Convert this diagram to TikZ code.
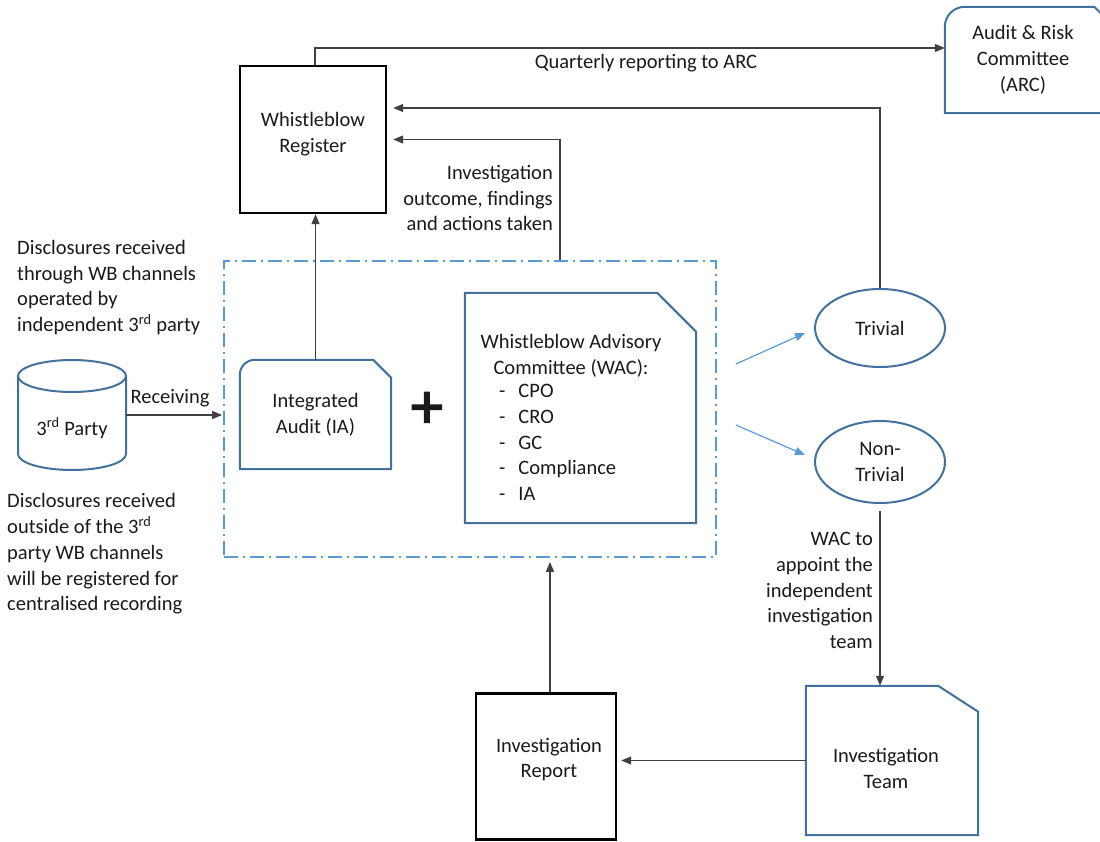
\documentclass[tikz,border=0pt]{standalone}
\usepackage{fontspec}
\setmainfont{Carlito}
\newfontfamily\plusfont[FakeBold=2.5]{Carlito}
\usetikzlibrary{arrows.meta,shapes.geometric,calc}
\definecolor{shapeblue}{HTML}{41719C}
\definecolor{lightblue}{HTML}{5B9BD5}
\definecolor{linegray}{HTML}{404040}
\definecolor{txt}{HTML}{1A1A1A}
\begin{document}
\begin{tikzpicture}[x=1pt,y=-1pt,
  font=\fontsize{20.5}{25.8}\selectfont,
  every node/.style={text=txt, inner sep=0pt},
  conn/.style={draw=linegray, line width=1.3pt, -{Triangle[length=10pt,width=8pt]}},
  blarrow/.style={draw=lightblue, line width=1.2pt, -{Triangle[length=10pt,width=8pt]}},
  blackbox/.style={draw=black, line width=2.4pt, align=center},
  blueline/.style={draw=shapeblue, line width=2pt},
  bluebox/.style={align=center},
  ellnode/.style={ellipse, draw=shapeblue, line width=2pt, align=center, minimum width=130, minimum height=#1},
  dashbox/.style={draw=lightblue, line width=1.8pt, dash pattern=on 14pt off 5pt on 2pt off 5pt},
  lbl/.style={align=center}
]
\useasboundingbox (0,0) rectangle (1100,842);

% Whistleblow Register
\node[blackbox, minimum width=146, minimum height=147] (reg) at (313,139.5) {};
\node[lbl] (regtxt) at (313,134) {Whistleblow\\Register};

% Audit & Risk Committee
\node[bluebox, minimum width=156, minimum height=106] (arc) at (1023,60) {Audit \& Risk\\Committee\\(ARC)};
\draw[blueline] (arc.south west) [rounded corners=20pt] -- (arc.north west) [sharp corners]
  -- ($(arc.north east)+(-7,0)$) -- ($(arc.north east)+(0,7)$) -- (arc.south east) -- cycle;

% dashed grouping box
\node[dashbox, minimum width=492, minimum height=296] (dbox) at (470,409) {};

% Integrated Audit
\node[bluebox, minimum width=151, minimum height=109] (ia) at (315.5,414.5) {Integrated\\Audit (IA)};
\draw[blueline] (ia.south west) [rounded corners=15pt] -- (ia.north west) [sharp corners]
  -- ($(ia.north east)+(-18,0)$) -- ($(ia.north east)+(0,18)$) -- (ia.south east) -- cycle;

% plus sign
\node (plus) at (427,410) {\plusfont\fontsize{64}{64}\selectfont +};

% Whistleblow Advisory Committee
\node[minimum width=231, minimum height=230] (wac) at (580.5,408) {};
\draw[blueline] (wac.south west) -- (wac.north west)
  -- ($(wac.north east)+(-39,0)$) -- ($(wac.north east)+(0,39)$) -- (wac.south east) -- cycle;
\node[lbl] (wachead) at (571,355.5) {Whistleblow Advisory\\Committee (WAC):};
\node[anchor=west] (waclist) at (499,444) {\begin{tabular}{@{}l@{\hspace{13pt}}l@{}}
-&CPO\\ -&CRO\\ -&GC\\ -&Compliance\\ -&IA\end{tabular}};

% 3rd party cylinder
\node[minimum width=108, minimum height=110] (cyl) at (72,415) {};
\draw[blueline] (72,376) ellipse [x radius=54pt, y radius=16pt];
\draw[blueline] (18,376) -- (18,454) arc[start angle=180, end angle=360, x radius=54pt, y radius=16pt] -- (126,376);
\node (cyltxt) at (72,428) {3\textsuperscript{rd} Party};

% ellipses
\node[ellnode=78] (triv) at (880,328) {Trivial};
\node[ellnode=82] (ntriv) at (880,462) {Non-\\Trivial};

% Investigation Team
\node[bluebox, minimum width=172, minimum height=149] (team) at (892,760.5) {};
\draw[blueline] (team.south west) -- (team.north west)
  -- ($(team.north east)+(-40,0)$) -- ($(team.north east)+(0,26)$) -- (team.south east) -- cycle;
\node[lbl] (teamtxt) at (886,768.5) {Investigation\\Team};

% Investigation Report
\node[blackbox, minimum width=140, minimum height=146] (rep) at (546,766.5) {};
\node[lbl] (reptxt) at (549,759.5) {Investigation\\Report};

% texts
\node (lblq) at (646,63) {Quarterly reporting to ARC};
\node[anchor=east, align=right] (lblinv) at (553,198) {Investigation\\outcome, findings\\and actions taken};
\node[anchor=west, align=left] (lbltop) at (17,287.5) {Disclosures received\\through WB channels\\operated by\\independent 3\textsuperscript{rd} party};
\node[anchor=west, align=left] (lblbot) at (7,554) {Disclosures received\\outside of the 3\textsuperscript{rd}\\party WB channels\\will be registered for\\centralised recording};
\node (lblrecv) at (170,398) {Receiving};
\node[anchor=east, align=right] (lblwac) at (873,590.5) {WAC to\\appoint the\\independent\\investigation\\team};

% connectors
\draw[conn] ([xshift=2pt]reg.north) |- ([yshift=12pt]arc.west);
\draw[conn, shorten >=6pt] (triv.north) |- ([yshift=31.5pt]reg.east);
\draw[conn, shorten >=6pt] ([xshift=90pt]dbox.north) |- (reg.east);
\draw[conn] (ia.north) -- (ia.north |- reg.south);
\draw[conn, shorten >=1pt] (cyl.east) -- (cyl.east -| dbox.west);
\draw[blarrow] ($(dbox.east)+(19,-45)$) -- ($(triv.west)+(-9,5)$);
\draw[blarrow] ($(dbox.east)+(19,16)$) -- ($(ntriv.west)+(-9,-7)$);
\draw[conn, shorten <=7pt] (ntriv.south) -- (ntriv.south |- team.north);
\draw[conn, shorten >=4pt] (team.west) -- (team.west -| rep.east);
\draw[conn, shorten >=4pt] ([xshift=4pt]rep.north) -- ([xshift=4pt]rep.north |- dbox.south);
\end{tikzpicture}
\end{document}
